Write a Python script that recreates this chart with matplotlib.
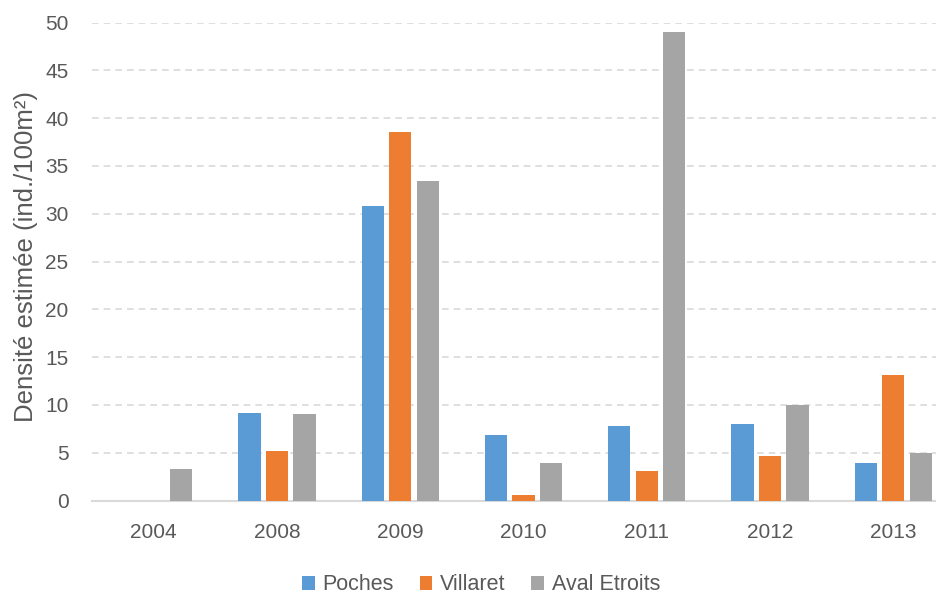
import numpy as np
import matplotlib
matplotlib.use("Agg")
import matplotlib.pyplot as plt

plt.rcParams['font.family'] = ['Liberation Sans', 'DejaVu Sans']

# Données
annees = ['2004', '2008', '2009', '2010', '2011', '2012', '2013']
poches = [0, 9.2, 30.8, 6.9, 7.8, 8.0, 3.9]
villaret = [0, 5.2, 38.5, 0.6, 3.1, 4.7, 13.1]
aval_etroits = [3.3, 9.1, 33.4, 3.9, 49.0, 10.0, 5.0]

series = [('Poches', poches, '#5B9BD5'),
          ('Villaret', villaret, '#ED7D31'),
          ('Aval Etroits', aval_etroits, '#A5A5A5')]

txt = '#595959'
fig = plt.figure(figsize=(9.36, 5.94), dpi=100)
ax = fig.add_axes([92 / 936, 1 - 500.5 / 594, 863 / 936, 478 / 594])

x = np.arange(len(annees))
largeur = 0.18
pas = 0.223
for i, (nom, vals, coul) in enumerate(series):
    vals = np.array(vals, dtype=float)
    mask = vals > 0
    ax.bar(x[mask] + (i - 1) * pas, vals[mask], width=largeur, color=coul, label=nom, zorder=3)

ax.set_xlim(-0.5, len(annees) - 0.5)
ax.set_ylim(0, 50)
ax.set_yticks(np.arange(0, 51, 5))
ax.set_xticks(x)
ax.set_xticklabels(annees)
ax.grid(axis='y', color='#D9D9D9', linestyle=(0, (4, 3)), linewidth=1.2, zorder=0)
ax.tick_params(axis='both', length=0, labelsize=15, colors=txt)
ax.tick_params(axis='y', pad=17)
ax.tick_params(axis='x', pad=16)
for s in ['top', 'right', 'left']:
    ax.spines[s].set_visible(False)
ax.spines['bottom'].set_color('#D9D9D9')
ax.spines['bottom'].set_linewidth(1.5)

ax.set_ylabel('Densité estimée (ind./100m²)', fontsize=18.5, color=txt)
ax.yaxis.set_label_coords(-54 / 863, 0.51)

fig.legend(loc='center', bbox_to_anchor=(481 / 936, 1 - 585 / 594), ncol=3, frameon=False,
           fontsize=15.5, labelcolor=txt, handlelength=0.6, handleheight=0.6,
           handletextpad=0.35, columnspacing=1.2)

fig.savefig('out.png', dpi=100)
